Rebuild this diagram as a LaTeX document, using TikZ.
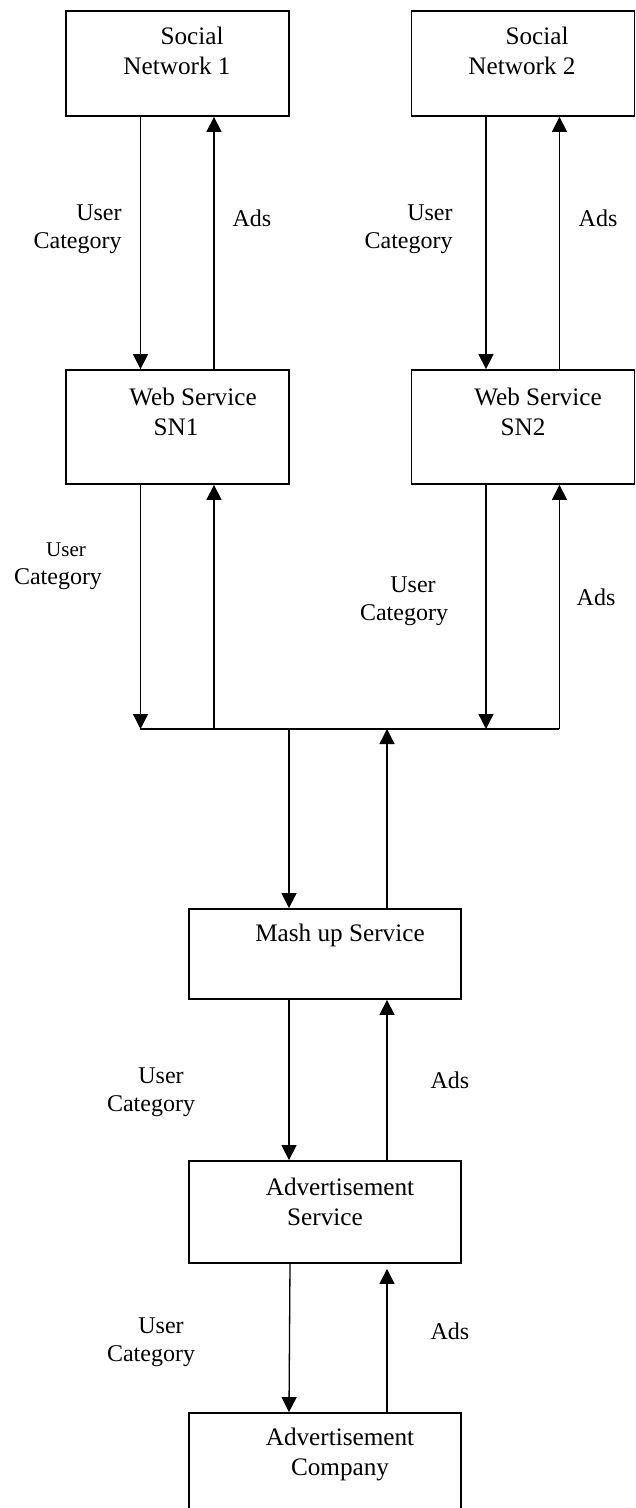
\documentclass[tikz,border=0pt]{standalone}
\usepackage{fontspec}
\setmainfont{Liberation Serif}
\usetikzlibrary{arrows.meta}
\usetikzlibrary{positioning}

\begin{document}
\begin{tikzpicture}[
    x=0.5pt, y=-0.5pt,
    block/.style={rectangle, draw, line width=0.9pt, inner sep=0pt},
    snblock/.style={block, minimum width=111.5pt},
    serviceblock/.style={block, minimum width=136pt},
    boxtext/.style={align=center, font=\fontsize{12.6}{15}\selectfont, inner sep=0pt},
    flowlabel/.style={font=\fontsize{12}{14}\selectfont, inner sep=0pt},
    flow/.style={line width=0.65pt, -{Triangle[length=7.5pt, width=7.5pt]}},
    wire/.style={line width=0.65pt}
]

\useasboundingbox (0,0) rectangle (636,1508);
\clip (0,0) rectangle (636,1508);

% --- Social networks and their web services ---
\node[snblock, minimum height=52.5pt] (sn1) at (177.5,63.5) {};
\node[snblock, minimum height=52.5pt] (sn2) at (523,63.5) {};
\node[snblock, minimum height=57pt] (ws1) at (177.5,427) {};
\node[snblock, minimum height=57pt] (ws2) at (523,427) {};

\node[boxtext] (sn1txt) at (177,51) {\hspace*{15pt}Social\\Network 1};
\node[boxtext] (sn2txt) at (522,51) {\hspace*{15pt}Social\\Network 2};
\node[boxtext] (ws1txt) at (176,412) {\hspace*{17pt}Web Service\\SN1};
\node[boxtext] (ws2txt) at (523,412) {\hspace*{15pt}Web Service\\SN2};

% --- Mash up, advertisement service and company ---
\node[serviceblock, minimum height=45pt] (mash) at (325,954) {};
\node[serviceblock, minimum height=51pt] (adserv) at (325,1212) {};
\node[serviceblock, minimum height=53pt] (adcomp) at (325,1466) {};

\node[boxtext] (mashtxt) at (340,935) {Mash up Service};
\node[boxtext] (adservtxt) at (325,1202) {\hspace*{15pt}Advertisement\\Service};
\node[boxtext] (adcomptxt) at (340,1454) {Advertisement\\Company};

% --- Social network <-> web service ---
\foreach \n in {1,2}
{
    \draw[flow] ([xshift=-18.5pt]sn\n.south) -- ([xshift=-18.5pt]ws\n.north);
    \draw[flow] ([xshift=18.25pt]ws\n.north) -- ([xshift=18.25pt]sn\n.south);
}

% --- Web services <-> common line ---
\coordinate (busL) at (140,729);
\coordinate (busR) at (559,729);
\draw[wire] (busL) -- (busR);

\foreach \n in {1,2}
{
    \draw[flow] ([xshift=-18.5pt]ws\n.south) -- ([xshift=-18.5pt]ws\n.south |- busL);
    \draw[flow] ([xshift=18.25pt]ws\n.south |- busL) -- ([xshift=18.25pt]ws\n.south);
}

% --- Common line <-> mash up ---
\draw[flow] ([xshift=-18pt]mash.north |- busL) -- ([xshift=-18pt]mash.north);
\draw[flow] ([xshift=31pt]mash.north) -- ([xshift=31pt]mash.north |- busL);

% --- Mash up <-> advertisement service <-> company ---
\draw[flow] ([xshift=-18pt]mash.south) -- ([xshift=-18pt]adserv.north);
\draw[flow] ([xshift=31pt]adserv.north) -- ([xshift=31pt]mash.south);
\draw[flow] ([xshift=-17.5pt]adserv.south) -- ([xshift=-18pt]adcomp.north);
\draw[flow] ([xshift=31pt]adcomp.north) -- ([xshift=31pt,yshift=-2.5pt]adserv.south);

% --- Labels ---
\node[flowlabel, align=right, anchor=east] (cat1) at (122,229) {User\\Category};
\node[flowlabel] (ads1) at (252,218) {Ads};
\node[flowlabel, align=right, anchor=east] (cat2) at (453,229) {User\\Category};
\node[flowlabel] (ads2) at (598,218) {Ads};

\node[flowlabel, align=center] (cat3) at (58,566) {{\fontsize{10.5}{14}\selectfont\hspace*{8pt}User}\\Category};
\node[flowlabel, align=center] (cat4) at (404,601) {\hspace*{9pt}User\\Category};
\node[flowlabel] (ads4) at (596,597) {Ads};

\node[flowlabel, align=center] (cat5) at (151,1092) {\hspace*{10pt}User\\Category};
\node[flowlabel] (ads5) at (450,1080) {Ads};
\node[flowlabel, align=center] (cat6) at (151,1342) {\hspace*{10pt}User\\Category};
\node[flowlabel] (ads6) at (450,1331) {Ads};

\end{tikzpicture}
\end{document}
